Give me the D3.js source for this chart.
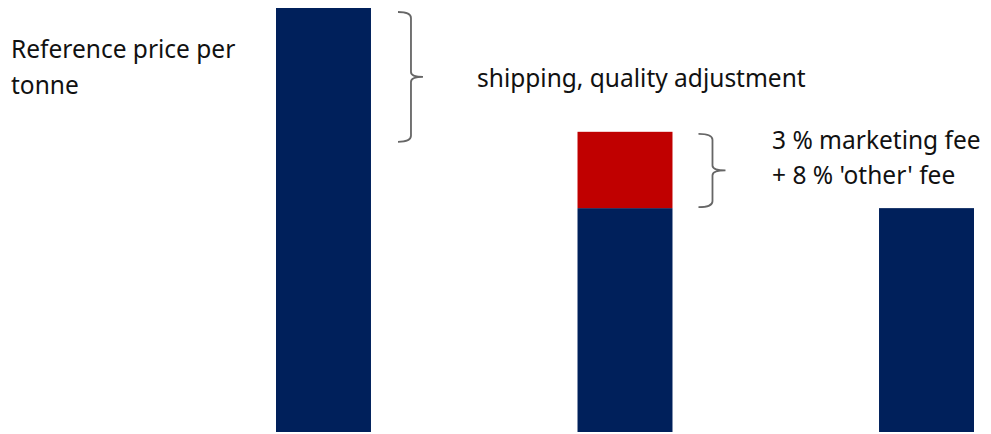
<!DOCTYPE html>
<html>
<head>
<meta charset="utf-8">
<script src="https://cdn.jsdelivr.net/npm/d3@7"></script>
<style>
  html, body { margin: 0; padding: 0; background: #fff; }
  svg text { font-family: "Noto Sans", "Open Sans", sans-serif; fill: #111; }
</style>
</head>
<body>
<svg id="chart" width="991" height="434"></svg>
<script>
"use strict";

// bar categories and values (reference price = 100)
const categories = ["reference", "after_adjustment", "net"];
const baseValues = [100, 52.8, 52.8];
const feeValues  = [0, 18.0, 0];

// annotation texts
const leftLabel  = ["Reference price per", "tonne"];
const shipLabel  = ["shipping, quality adjustment"];
const feeLabel   = ["3 % marketing fee", "+ 8 % 'other' fee"];

const navy = "#00205b";
const red  = "#c00000";

const svg = d3.select("#chart");

const x = d3.scaleBand()
    .domain(categories)
    .range([276, 974])
    .paddingInner(0.685)
    .paddingOuter(0);

const y = d3.scaleLinear()
    .domain([0, 100])
    .range([432, 8]);

// navy base bars
svg.append("g")
    .selectAll("rect")
    .data(categories)
    .enter()
    .append("rect")
    .attr("x", (d) => x(d))
    .attr("width", x.bandwidth())
    .attr("y", (d, i) => y(baseValues[i]))
    .attr("height", (d, i) => y(0) - y(baseValues[i]))
    .attr("fill", navy);

// red fee portion stacked on top
svg.append("g")
    .selectAll("rect")
    .data(categories.filter((d, i) => feeValues[i] > 0))
    .enter()
    .append("rect")
    .attr("x", (d) => x(d))
    .attr("width", x.bandwidth())
    .attr("y", (d) => {
        let i = categories.indexOf(d);
        return y(baseValues[i] + feeValues[i]);
    })
    .attr("height", (d) => {
        let i = categories.indexOf(d);
        return y(baseValues[i]) - y(baseValues[i] + feeValues[i]);
    })
    .attr("fill", red);

// curly brace: x0 is the hook end, w the depth to the spine, tip the extra point length
function brace(x0, y0, y1, w, tip) {
    const xm = x0 + w;
    const ym = (y0 + y1) / 2;
    return "M" + x0 + "," + y0 +
        " Q" + xm + "," + y0 + " " + xm + "," + (y0 + 6) +
        " L" + xm + "," + (ym - 5) +
        " Q" + xm + "," + ym + " " + (xm + tip) + "," + ym +
        " Q" + xm + "," + ym + " " + xm + "," + (ym + 5) +
        " L" + xm + "," + (y1 - 6) +
        " Q" + xm + "," + y1 + " " + x0 + "," + y1;
}

const gBr = svg.append("g")
    .attr("fill", "none")
    .attr("stroke", "#666")
    .attr("stroke-width", 1.8);

const i1 = categories.indexOf("after_adjustment");
const b1x = x("reference") + x.bandwidth() + 27;
gBr.append("path")
    .attr("d", brace(b1x, y(baseValues[0]) + 4, y(baseValues[i1] + feeValues[i1]) + 10, 13, 12));

const b2x = x("after_adjustment") + x.bandwidth() + 26;
gBr.append("path")
    .attr("d", brace(b2x, y(baseValues[i1] + feeValues[i1]) + 2, y(baseValues[i1]) - 1, 14, 13));

// texts
function addLines(lines, tx, ty, dy) {
    svg.append("text")
        .attr("x", tx)
        .attr("y", ty)
        .attr("font-size", 24.5)
        .selectAll("tspan")
        .data(lines)
        .enter()
        .append("tspan")
        .attr("x", tx)
        .attr("dy", (d, i) => i === 0 ? 0 : dy)
        .text((d) => d);
}

addLines(leftLabel, 11, 58, 36);
addLines(shipLabel, 477, 87, 0);
addLines(feeLabel, 772, 149, 35);
</script>
</body>
</html>
